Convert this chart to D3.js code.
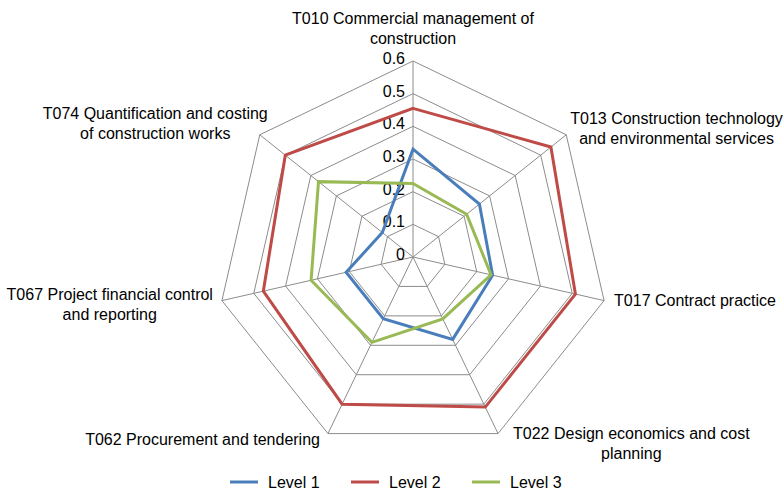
<!DOCTYPE html>
<html>
<head>
<meta charset="utf-8">
<script src="https://cdn.jsdelivr.net/npm/d3@7"></script>
<style>
  body { margin: 0; background: #fff; }
  text { font-family: "Liberation Sans", Arial, Helvetica, sans-serif; fill: #000; }
</style>
</head>
<body>
<div id="radar"></div>
<script>
// categories (one per spoke, clockwise from top)
var categories = [
  ["T010 Commercial management of", "construction"],
  ["T013 Construction technology", "and environmental services"],
  ["T017 Contract practice"],
  ["T022 Design economics and cost", "planning"],
  ["T062 Procurement and tendering"],
  ["T067 Project financial control", "and reporting"],
  ["T074 Quantification and costing", "of construction works"]
];
var seriesNames = ["Level 1", "Level 2", "Level 3"];
var level1 = [0.33, 0.26, 0.25, 0.28, 0.21, 0.21, 0.12];
var level2 = [0.455, 0.54, 0.51, 0.51, 0.50, 0.47, 0.50];
var level3 = [0.225, 0.21, 0.245, 0.21, 0.29, 0.32, 0.37];
var ticks = [0, 0.1, 0.2, 0.3, 0.4, 0.5, 0.6];
var colors = ["#4a7ebb", "#be4b48", "#98b954"];

var width = 783, height = 492;
var cx = 413, cy = 257, R = 196;

var svg = d3.select("#radar")
  .append("svg")
    .attr("width", width)
    .attr("height", height);

var g = svg.append("g")
  .attr("transform", "translate(" + cx + "," + cy + ")");

var r = d3.scaleLinear().domain([0, 0.6]).range([0, R]);
var angle = d3.scaleLinear()
  .domain([0, categories.length])
  .range([0, 2 * Math.PI]);

function pt(i, v) {
  var a = angle(i);
  return [r(v) * Math.sin(a), -r(v) * Math.cos(a)];
}

// grid rings
ticks.slice(1).forEach(function(t) {
  g.append("path")
    .attr("d", d3.line()(categories.map(function(c, i) { return pt(i, t); })) + "Z")
    .attr("fill", "none")
    .attr("stroke", "#8c8c8c")
    .attr("stroke-width", 1);
});

// spokes
g.selectAll("spoke")
  .data(categories)
  .enter()
  .append("line")
    .attr("x1", 0).attr("y1", 0)
    .attr("x2", function(d, i) { return pt(i, 0.6)[0]; })
    .attr("y2", function(d, i) { return pt(i, 0.6)[1]; })
    .attr("stroke", "#8c8c8c")
    .attr("stroke-width", 1);

// tick labels
g.selectAll("ticklabel")
  .data(ticks)
  .enter()
  .append("text")
    .attr("x", -8)
    .attr("y", function(d) { return -r(d) + 3; })
    .attr("text-anchor", "end")
    .style("font-size", "16px")
    .text(function(d) { return d; });

// series
var line = d3.lineRadial()
  .angle(function(d, i) { return angle(i); })
  .radius(function(d) { return r(d); })
  .curve(d3.curveLinearClosed);

[level1, level2, level3].forEach(function(vals, s) {
  g.append("path")
    .attr("d", line(vals))
    .attr("fill", "none")
    .attr("stroke", colors[s])
    .attr("stroke-width", 3)
    .attr("stroke-linejoin", "miter");
});

// category labels (placement tweaks mimic the original layout)
var lh = 20;
categories.forEach(function(lines, i) {
  var v = pt(i, 0.6);
  var t = g.append("text")
    .attr("text-anchor", "middle")
    .style("font-size", "16px");
  lines.forEach(function(l, j) {
    t.append("tspan").attr("x", 0).attr("dy", j ? lh : 0).text(l);
  });
  var w = d3.max(t.selectAll("tspan").nodes(), function(n) { return n.getComputedTextLength(); });
  var n = lines.length;
  var bx, by; // block centre x, first baseline
  if (i === 0) { bx = v[0]; by = v[1] - 17.5 - (n - 1) * lh; }
  else if (i === 1) { bx = v[0] + 4 + w / 2; by = v[1] - 11; }
  else if (i === 2) { bx = v[0] + 10 + w / 2; by = v[1] + 5.5; }
  else if (i === 3) { bx = v[0] + 15 + w / 2; by = v[1] + 5.5; }
  else if (i === 4) { bx = v[0] - 8 - w / 2; by = v[1] + 11.5; }
  else if (i === 5) { bx = v[0] - 9 - w / 2; by = v[1] - 0.5; }
  else { bx = v[0] + 8 - w / 2; by = v[1] - 16; }
  t.attr("transform", "translate(" + bx + "," + by + ")");
});

// legend
var legend = svg.append("g").attr("transform", "translate(230,482)");
seriesNames.forEach(function(name, i) {
  var item = legend.append("g").attr("transform", "translate(" + (i * 121) + ",0)");
  item.append("line")
    .attr("x1", 0).attr("x2", 28).attr("y1", 0).attr("y2", 0)
    .attr("stroke", colors[i])
    .attr("stroke-width", 3);
  item.append("text")
    .attr("x", 38).attr("y", 5.5)
    .style("font-size", "16px")
    .text(name);
});
</script>
</body>
</html>
